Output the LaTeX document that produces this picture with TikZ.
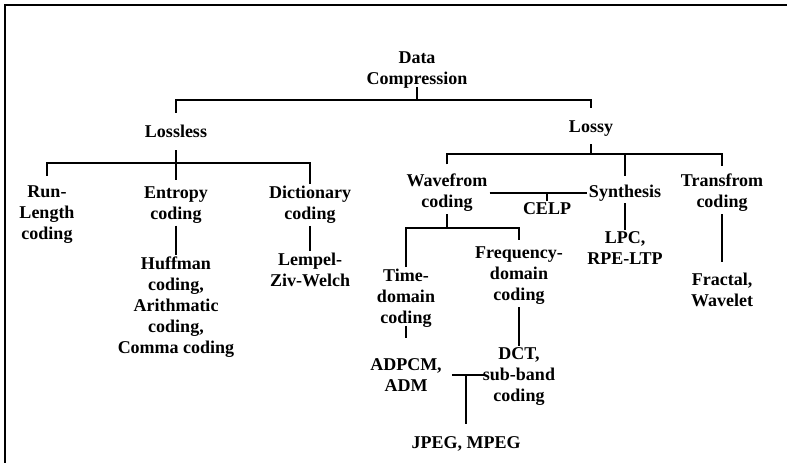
\documentclass[tikz,border=0pt]{standalone}
\usepackage{fontspec}
\setmainfont{Liberation Serif}
\begin{document}
\begin{tikzpicture}[x=1pt, y=-1pt,
 lbl/.style={font=\bfseries\fontsize{18}{21}\selectfont, align=center, inner sep=2pt},
 br/.style={line width=2pt}]
\useasboundingbox (0,0) rectangle (787,463);
\draw[line width=1.5pt] (787,5)--(5,5)--(5,463); %khung
% cac nut
\node[lbl] (dc) at (417,70.5) {Data\\Compression};
\node[lbl] (lossless) at (176,131.5) {Lossless};
\node[lbl] (lossy) at (591,129) {Lossy};
\node[lbl] (run) at (47,215) {Run-\\Length\\coding};
\node[lbl] (entropy) at (176,205) {Entropy\\coding};
\node[lbl] (dict) at (310,205) {Dictionary\\coding};
\node[lbl] (huff) at (176,307.5) {Huffman\\coding,\\Arithmatic\\coding,\\Comma coding};
\node[lbl] (lzw) at (310,270) {Lempel-\\Ziv-Welch};
\node[lbl] (wave) at (447,193) {Wavefrom\\coding};
\node[lbl] (celp) at (547,209) {CELP};
\node[lbl] (synth) at (625,193) {Synthesis};
\node[lbl] (trans) at (722,193) {Transfrom\\coding};
\node[lbl] (lpc) at (625,248.5) {LPC,\\RPE-LTP};
\node[lbl] (fractal) at (722,290) {Fractal,\\Wavelet};
\node[lbl] (time) at (406,298.5) {Time-\\domain\\coding};
\node[lbl] (freq) at (519,276) {Frequency-\\domain\\coding};
\node[lbl] (adpcm) at (406,375) {ADPCM,\\ADM};
\node[lbl] (dct) at (519,377) {DCT,\\sub-band\\coding};
\node[lbl] (jpeg) at (466,443.5) {JPEG, MPEG};
% cac muc thanh ngang
\coordinate (bar1) at (0,100);
\coordinate (bar2) at (0,163);
\coordinate (bar3) at (0,154);
\coordinate (bar4) at (0,228);
% cac duong noi
\draw[br] ([yshift=4pt]dc.south)--(dc.south |- bar1);
\draw[br] ([yshift=10pt]lossless.north) |- (bar1 -| lossy)--([yshift=11pt]lossy.north);
\draw[br] ([yshift=-10pt]lossless.south)--(lossless |- bar2);
\draw[br] ([yshift=8pt]run.north) |- (bar2 -| dict)--(dict.north);
\draw[br] ([yshift=4.5pt]entropy.north)--(entropy |- bar2);
\draw[br] (entropy.south)--(huff.north);
\draw[br] (dict.south)--(lzw.north);
\draw[br] ([yshift=-5pt]lossy.south)--(lossy |- bar3);
\draw[br] ([yshift=7.5pt]wave.north) |- (bar3 -| trans)--([yshift=5.5pt]trans.north);
\draw[br] ([yshift=7pt]synth.north)--(synth |- bar3);
\draw[br] (wave.east)--(synth.west);
\draw[br] (celp.north)--(celp |- wave.east);
\draw[br] (synth.south)--(lpc.north);
\draw[br] (trans.south)--([yshift=8.5pt]fractal.north);
\draw[br] (wave.south)--(wave |- bar4);
\draw[br] (time.north) |- (bar4 -| freq)--([yshift=5pt]freq.north);
\draw[br] (freq.south)--(dct.north);
\draw[br, shorten >=18pt] ([yshift=4pt]time.south)--(adpcm.north);
\draw[br, shorten <=8pt, shorten >=-4pt] (adpcm.east)--(adpcm.east -| dct.west);
\draw[br] ([yshift=10pt]jpeg.north)--(jpeg |- adpcm.east);
\end{tikzpicture}
\end{document}
